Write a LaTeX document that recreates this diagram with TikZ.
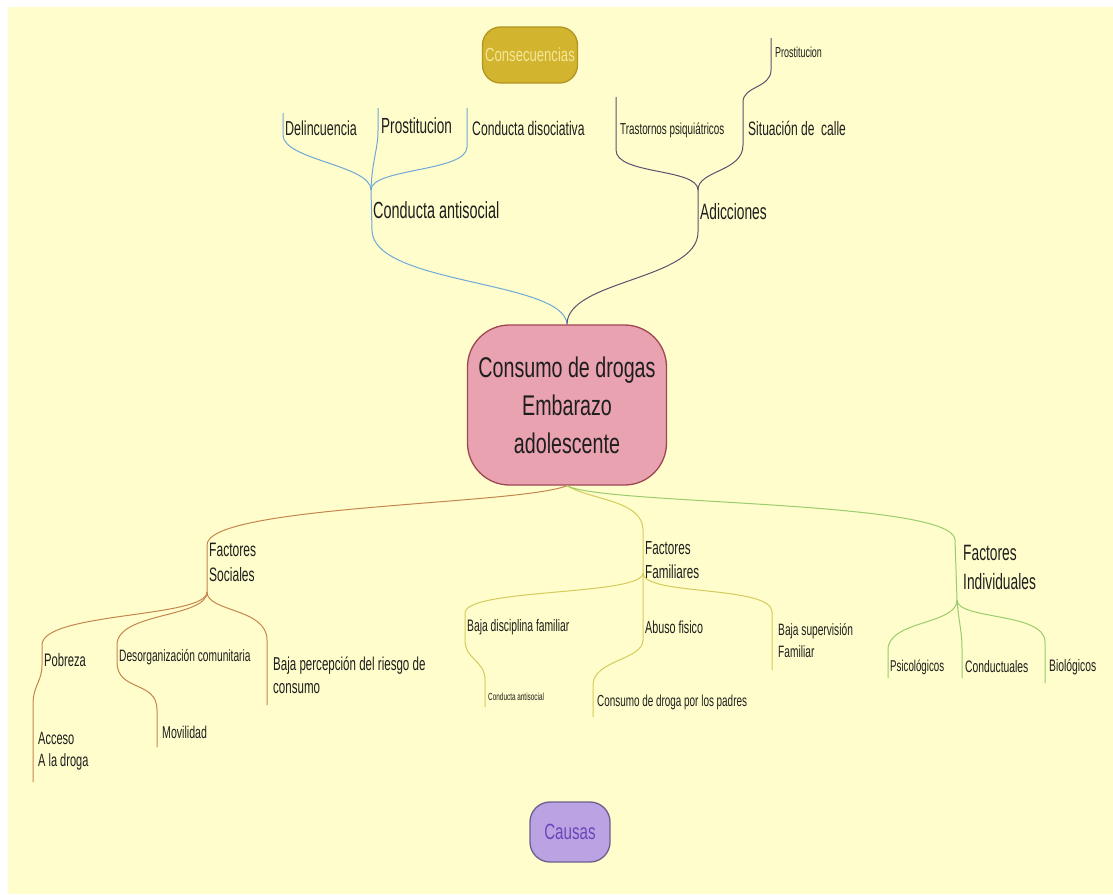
\documentclass[tikz,border=0pt]{standalone}
\usepackage{fontspec}
\setmainfont{Liberation Sans}[FakeStretch=0.69]
\newfontfamily\lblfam{Liberation Sans}[FakeStretch=0.62]
\newcommand\fsz[2]{\fontsize{#1pt}{#2pt}\selectfont}
\newcommand\lsz[2]{\pgfmathsetmacro\lblsize{#1*1.11}\lblfam\fontsize{\lblsize pt}{#2pt}\selectfont}
\definecolor{bgy}{HTML}{FFFDCB}
\definecolor{txt}{HTML}{1E1E1E}
\definecolor{gold}{HTML}{D3B42F}
\definecolor{golddk}{HTML}{B39522}
\definecolor{goldtx}{HTML}{F4E79A}
\definecolor{pinkf}{HTML}{E9A2AF}
\definecolor{pinkd}{HTML}{9E4656}
\definecolor{lavf}{HTML}{BBA3E3}
\definecolor{lavd}{HTML}{6E5E8E}
\definecolor{lavt}{HTML}{6B45B8}
\definecolor{cblue}{HTML}{6FA8D8}
\definecolor{cpurp}{HTML}{5E4F70}
\definecolor{corange}{HTML}{C4864E}
\definecolor{cyellow}{HTML}{D5CB5C}
\definecolor{cgreen}{HTML}{98CC6C}
\tikzset{
  lbl/.style={anchor=west, inner sep=0pt, text=txt, align=left},
  boxnode/.style={draw, line width=1.3pt, inner sep=0pt, align=center},
  branch/.style={line width=1pt},
}
\begin{document}
\begin{tikzpicture}[x=1pt,y=-1pt]
\useasboundingbox (0,0) rectangle (1113,894);
\fill[white] (0,0) rectangle (1113,894);
\fill[bgy] (8,7) rectangle (1113,894);

% main boxes
\node[boxnode, fill=gold, draw=golddk, text=goldtx, minimum width=95pt, minimum height=56pt, rounded corners=18pt, font=\fsz{19}{22}] (cons) at (530,55) {Consecuencias};
\node[boxnode, fill=pinkf, draw=pinkd, text=txt, minimum width=199pt, minimum height=160pt, rounded corners=42pt, font=\fsz{28.5}{38}] (center) at (567,405) {Consumo de drogas\\Embarazo\\adolescente};
\node[boxnode, fill=lavf, draw=lavd, text=lavt, minimum width=80pt, minimum height=60pt, rounded corners=20pt, font=\fsz{22}{26}] (causas) at (570,832) {Causas};

% ---------- top-left (blue)
\coordinate (ja) at (371,190);
\coordinate (ja1) at (283,113);
\coordinate (ja2) at (378,108);
\coordinate (ja3) at (467,108);
\draw[branch, cblue] (center.north) .. controls (565,280) and (372,285) .. (372,230) -- (ja);
\draw[branch, cblue] (ja) .. controls (371,165) and (283,160) .. (283,135) -- (ja1);
\draw[branch, cblue] (ja) .. controls (372,160) and (378,150) .. (378,130) -- (ja2);
\draw[branch, cblue] (ja) .. controls (371,168) and (467,172) .. (467,147) -- (ja3);
\node[lbl, font=\lsz{21}{24}] (antisoc) at (373,210) {Conducta antisocial};
\node[lbl, font=\lsz{18.2}{21}] (delin) at (285,128) {Delincuencia};
\node[lbl, font=\lsz{19.7}{22}] (prost) at (381,126) {Prostitucion};
\node[lbl, font=\lsz{17.7}{21}] (disoc) at (472,128) {Conducta disociativa};

% ---------- top-right (purple)
\coordinate (jb) at (698,190);
\coordinate (jb1) at (616,97);
\coordinate (jb2) at (771,38);
\draw[branch, cpurp] (center.north) .. controls (567,280) and (698,280) .. (698,232) -- (jb);
\draw[branch, cpurp] (jb) .. controls (698,168) and (616,175) .. (616,150) -- (jb1);
\draw[branch, cpurp] (jb) .. controls (698,170) and (743,172) .. (743,145) -- (743,102) .. controls (743,86) and (771,88) .. (771,70) -- (jb2);
\node[lbl, font=\lsz{20}{23}] (adic) at (700,212) {Adicciones};
\node[lbl, font=\lsz{14.3}{17}] (trast) at (620,130) {Trastornos psiquiátricos};
\node[lbl, font=\lsz{17.5}{20}] (calle) at (748,128) {Situación de\ \ calle};
\node[lbl, font=\lsz{13}{15}] (prost2) at (775,52) {Prostitucion};

% ---------- bottom-left (orange)
\coordinate (js) at (207,592);
\coordinate (js1) at (33,782);
\coordinate (js2) at (157,747);
\coordinate (js3) at (267,705);
\draw[branch, corange] (center.south) .. controls (520,505) and (207,505) .. (207,545) -- (js);
\draw[branch, corange] (js) .. controls (207,618) and (42,612) .. (42,645) -- (42,665) .. controls (42,682) and (33,685) .. (33,705) -- (js1);
\draw[branch, corange] (js) .. controls (207,618) and (117,612) .. (117,645) -- (117,662) .. controls (117,692) and (157,680) .. (157,710) -- (js2);
\draw[branch, corange] (js) .. controls (207,612) and (267,608) .. (267,640) -- (js3);
\node[lbl, font=\lsz{17.5}{25}] (fsoc) at (209,562) {Factores\\Sociales};
\node[lbl, font=\lsz{16.3}{19}] (pobre) at (44,660) {Pobreza};
\node[lbl, font=\lsz{16}{22}] (acceso) at (38,751) {Acceso\\A la droga};
\node[lbl, font=\lsz{14.8}{17}] (desorg) at (119,657) {Desorganización comunitaria};
\node[lbl, font=\lsz{15.4}{18}] (movil) at (162,732) {Movilidad};
\node[lbl, font=\lsz{16.8}{23}] (bajap) at (273,675) {Baja percepción del riesgo de\\consumo};

% ---------- bottom-middle (yellow)
\coordinate (jf) at (643,573);
\coordinate (jf1) at (485,707);
\coordinate (jf2) at (593,717);
\coordinate (jf3) at (772,670);
\draw[branch, cyellow] (center.south) .. controls (590,500) and (643,500) .. (643,530) -- (jf);
\draw[branch, cyellow] (jf) .. controls (643,596) and (465,588) .. (465,613) -- (465,640) .. controls (465,660) and (485,660) .. (485,680) -- (jf1);
\draw[branch, cyellow] (jf) -- (643,640) .. controls (643,660) and (593,660) .. (593,685) -- (jf2);
\draw[branch, cyellow] (jf) .. controls (643,596) and (772,585) .. (772,612) -- (jf3);
\node[lbl, font=\lsz{17}{24}] (ffam) at (645,560) {Factores\\Familiares};
\node[lbl, font=\lsz{15}{18}] (bajad) at (467,627) {Baja disciplina familiar};
\node[lbl, font=\lsz{9.3}{11}] (antisoc2) at (488,697) {Conducta antisocial};
\node[lbl, font=\lsz{15.6}{18}] (abuso) at (645,627) {Abuso fisico};
\node[lbl, font=\lsz{14.4}{17}] (padres) at (597,702) {Consumo de droga por los padres};
\node[lbl, font=\lsz{14.8}{22}] (bajas) at (778,641) {Baja supervisión\\Familiar};

% ---------- bottom-right (green)
\coordinate (ji) at (957,600);
\coordinate (ji1) at (888,678);
\coordinate (ji2) at (962,678);
\coordinate (ji3) at (1045,683);
\draw[branch, cgreen] (center.south) .. controls (600,505) and (955,500) .. (955,540) -- (ji);
\draw[branch, cgreen] (ji) .. controls (957,625) and (888,620) .. (888,650) -- (ji1);
\draw[branch, cgreen] (ji) .. controls (959,625) and (962,630) .. (962,650) -- (ji2);
\draw[branch, cgreen] (ji) .. controls (957,620) and (1045,612) .. (1045,642) -- (ji3);
\node[lbl, font=\lsz{20}{29}] (find) at (963,567) {Factores\\Individuales};
\node[lbl, font=\lsz{14.1}{17}] (psico) at (890,667) {Psicológicos};
\node[lbl, font=\lsz{15}{18}] (conduc) at (965,667) {Conductuales};
\node[lbl, font=\lsz{15}{18}] (biolo) at (1049,667) {Biológicos};
\end{tikzpicture}
\end{document}
